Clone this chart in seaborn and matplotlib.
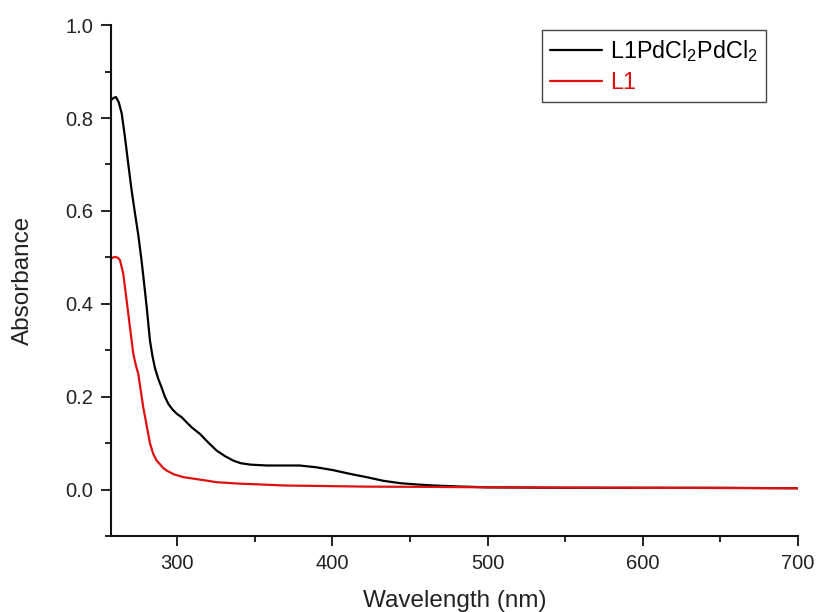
import numpy as np
import pandas as pd
import matplotlib
matplotlib.use("Agg")
import matplotlib.pyplot as plt
import seaborn as sns

# Complex L1PdCl2PdCl2 (black)
wl_complex = [257.5, 259, 260.7, 262.5, 264.4, 266.5, 268.6, 270.8, 273, 275.1, 277.3,
              278.8, 280.5, 282.6, 284.2, 285.8, 288, 290.1, 292.2, 294.4, 297, 300,
              303, 306.2, 309.5, 314.8, 320, 325.6, 331, 336.3, 341, 347, 352, 357.8, 368, 379,
              390, 400.6, 411.4, 422, 433, 443.6, 455, 465, 480, 500, 550, 600, 650, 700]
abs_complex = [0.838, 0.843, 0.845, 0.834, 0.810, 0.759, 0.702, 0.644, 0.594, 0.548, 0.490,
               0.445, 0.393, 0.321, 0.288, 0.262, 0.238, 0.220, 0.200, 0.185, 0.173, 0.163,
               0.156, 0.145, 0.134, 0.120, 0.102, 0.084, 0.072, 0.0625, 0.057, 0.054, 0.053, 0.052, 0.052, 0.052,
               0.048, 0.042, 0.034, 0.027, 0.019, 0.014, 0.011, 0.009, 0.007, 0.005, 0.004, 0.004, 0.004, 0.003]

# Ligand L1 (red)
wl_ligand = [257.5, 259, 260.3, 262, 263.3, 265.4, 267.6, 269.7, 271.9, 273.5, 275.1,
             278.3, 281.5, 282.6, 284.7, 286.9, 289, 291, 293.4, 298, 304, 310, 318,
             325.6, 340, 355, 368.4, 390, 422, 460, 500, 600, 700]
abs_ligand = [0.497, 0.500, 0.501, 0.499, 0.494, 0.465, 0.407, 0.350, 0.292, 0.268, 0.249,
              0.177, 0.120, 0.100, 0.077, 0.0625, 0.055, 0.047, 0.041, 0.033, 0.027, 0.024, 0.020,
              0.016, 0.013, 0.011, 0.009, 0.008, 0.0065, 0.006, 0.005, 0.004, 0.003]

series_names = ["L1PdCl$_2$PdCl$_2$", "L1"]
series_colors = ["#000000", "#e01010"]

df = pd.concat([
    pd.DataFrame({"Wavelength": wl_complex, "Absorbance": abs_complex, "Sample": series_names[0]}),
    pd.DataFrame({"Wavelength": wl_ligand, "Absorbance": abs_ligand, "Sample": series_names[1]}),
], ignore_index=True)

sns.set_style("ticks")
plt.rcParams["font.family"] = ["Liberation Sans", "DejaVu Sans"]
plt.rcParams["mathtext.fontset"] = "custom"
plt.rcParams["mathtext.rm"] = "Liberation Sans"
plt.rcParams["mathtext.it"] = "Liberation Sans"

fig = plt.figure(figsize=(8.16, 6.12), dpi=100)
ax = fig.add_axes([0.136, 0.124, 0.842, 0.835])

sns.lineplot(data=df, x="Wavelength", y="Absorbance", hue="Sample",
             hue_order=series_names, palette=series_colors, sort=False,
             estimator=None, linewidth=1.6, ax=ax)

ax.set_xlim(257.5, 700)
ax.set_ylim(-0.1, 1.0)
ax.set_xticks([300, 400, 500, 600, 700])
ax.set_xticks([350, 450, 550, 650], minor=True)
ax.set_yticks([0.0, 0.2, 0.4, 0.6, 0.8, 1.0])
ax.set_yticks([-0.1, 0.1, 0.3, 0.5, 0.7, 0.9], minor=True)
ax.yaxis.set_major_formatter(matplotlib.ticker.FormatStrFormatter("%.1f"))

ax.tick_params(axis="both", which="major", direction="out", length=7, width=1.4,
               labelsize=14.5, colors="#222222", pad=6)
ax.tick_params(axis="both", which="minor", direction="out", length=4, width=1.4)
for s in ["top", "right"]:
    ax.spines[s].set_visible(False)
for s in ["left", "bottom"]:
    ax.spines[s].set_linewidth(1.5)
    ax.spines[s].set_color("#111111")

ax.set_xlabel("Wavelength (nm)", fontsize=17.5, color="#222222", labelpad=12)
ax.set_ylabel("Absorbance", fontsize=17.5, color="#222222", labelpad=22)

leg = ax.legend(loc="upper right", bbox_to_anchor=(0.9387, 0.951),
                bbox_transform=fig.transFigure, borderaxespad=0,
                fontsize=16.8, handlelength=2.2, handletextpad=0.35,
                frameon=True, fancybox=False, framealpha=1,
                edgecolor="#444444", borderpad=0.35, labelspacing=0.3)
leg.get_frame().set_linewidth(1.0)
for text, c in zip(leg.get_texts(), series_colors):
    text.set_color(c)

fig.savefig("out.png", dpi=100)
